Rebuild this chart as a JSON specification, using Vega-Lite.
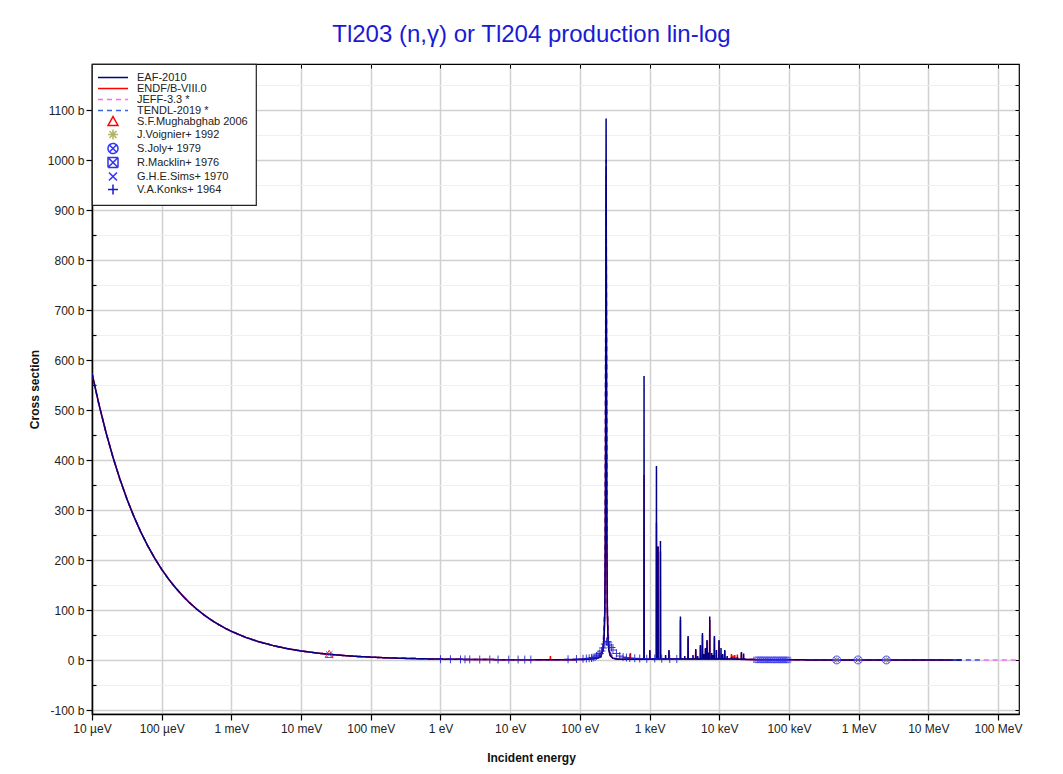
{
  "$schema": "https://vega.github.io/schema/vega-lite/v6.json",
  "width": 927,
  "height": 650,
  "autosize": {"type": "none"},
  "padding": {"left": 92, "top": 64, "right": 44, "bottom": 60},
  "background": "white",
  "title": {"text": "Tl203 (n,γ) or Tl204 production lin-log", "fontSize": 24, "font": "Liberation Sans", "fontWeight": "normal", "color": "#1a1ad6", "anchor": "middle", "frame": "group", "dx": -24, "offset": 16},
  "config": {
    "view": {"stroke": "black", "strokeWidth": 1.2},
    "font": "Liberation Sans",
    "legend": {"orient": "top-left", "offset": 0, "padding": 7.5, "fillColor": "white", "strokeColor": "#222222", "strokeWidth": 1.2, "symbolSize": 100, "symbolStrokeWidth": 1.5, "labelFontSize": 11, "labelFont": "Liberation Sans", "labelColor": "#222222", "rowPadding": -2.6, "symbolOffset": 7.5, "labelOffset": 18, "symbolOpacity": 1, "cornerRadius": 0}
  },
  "datasets": {
    "eaf": [
      {"s":"EAF-2010","e":1e-5,"v":573.4},{"s":"EAF-2010","e":1.25e-5,"v":512.9},{"s":"EAF-2010","e":1.6e-5,"v":453.3},{"s":"EAF-2010","e":2e-5,"v":405.5},{"s":"EAF-2010","e":2.5e-5,"v":362.7},{"s":"EAF-2010","e":3.2e-5,"v":320.5},{"s":"EAF-2010","e":4e-5,"v":286.7},{"s":"EAF-2010","e":5e-5,"v":256.4},{"s":"EAF-2010","e":6.3e-5,"v":228.4},{"s":"EAF-2010","e":8e-5,"v":202.7},{"s":"EAF-2010","e":1e-4,"v":181.3},{"s":"EAF-2010","e":1.25e-4,"v":162.2},{"s":"EAF-2010","e":1.6e-4,"v":143.4},{"s":"EAF-2010","e":2e-4,"v":128.2},{"s":"EAF-2010","e":2.5e-4,"v":114.7},{"s":"EAF-2010","e":3.2e-4,"v":101.4},{"s":"EAF-2010","e":4e-4,"v":90.7},{"s":"EAF-2010","e":5e-4,"v":81.1},{"s":"EAF-2010","e":6.3e-4,"v":72.2},{"s":"EAF-2010","e":8e-4,"v":64.1},{"s":"EAF-2010","e":1e-3,"v":57.3},{"s":"EAF-2010","e":1.6e-3,"v":45.3},{"s":"EAF-2010","e":2.5e-3,"v":36.3},{"s":"EAF-2010","e":4e-3,"v":28.7},{"s":"EAF-2010","e":6.3e-3,"v":22.8},{"s":"EAF-2010","e":1e-2,"v":18.1},{"s":"EAF-2010","e":1.6e-2,"v":14.3},{"s":"EAF-2010","e":2.53e-2,"v":11.4},{"s":"EAF-2010","e":4e-2,"v":9.07},{"s":"EAF-2010","e":6.3e-2,"v":7.22},{"s":"EAF-2010","e":0.1,"v":5.73},{"s":"EAF-2010","e":0.16,"v":4.53},{"s":"EAF-2010","e":0.25,"v":3.63},{"s":"EAF-2010","e":0.4,"v":2.87},{"s":"EAF-2010","e":0.63,"v":2.28},{"s":"EAF-2010","e":1,"v":1.81},{"s":"EAF-2010","e":1.6,"v":1.43},{"s":"EAF-2010","e":2.5,"v":1.15},{"s":"EAF-2010","e":4,"v":0.91},{"s":"EAF-2010","e":6.3,"v":0.72},{"s":"EAF-2010","e":10,"v":0.57},{"s":"EAF-2010","e":20,"v":0.45},{"s":"EAF-2010","e":50,"v":0.55},{"s":"EAF-2010","e":100,"v":0.8},
      {"s":"EAF-2010","e":138,"v":1.6},{"s":"EAF-2010","e":178,"v":3.8},{"s":"EAF-2010","e":200,"v":6.5},{"s":"EAF-2010","e":215,"v":21},{"s":"EAF-2010","e":223,"v":47},{"s":"EAF-2010","e":228,"v":100},{"s":"EAF-2010","e":232,"v":240},{"s":"EAF-2010","e":234,"v":423},{"s":"EAF-2010","e":236,"v":779},{"s":"EAF-2010","e":238,"v":1083},{"s":"EAF-2010","e":240,"v":779},{"s":"EAF-2010","e":242,"v":423},{"s":"EAF-2010","e":244,"v":240},{"s":"EAF-2010","e":248,"v":100},{"s":"EAF-2010","e":253,"v":47},{"s":"EAF-2010","e":261,"v":20},{"s":"EAF-2010","e":273,"v":9},{"s":"EAF-2010","e":298,"v":3.5},{"s":"EAF-2010","e":338,"v":1.8},{"s":"EAF-2010","e":400,"v":1.4},{"s":"EAF-2010","e":530,"v":1.3},{"s":"EAF-2010","e":700,"v":1.3},
      {"s":"EAF-2010","e":830,"v":1.4},{"s":"EAF-2010","e":834,"v":568},{"s":"EAF-2010","e":838,"v":1.4},
      {"s":"EAF-2010","e":1004,"v":1.5},{"s":"EAF-2010","e":1009,"v":20},{"s":"EAF-2010","e":1014,"v":1.5},
      {"s":"EAF-2010","e":1250,"v":2},{"s":"EAF-2010","e":1256,"v":388},{"s":"EAF-2010","e":1262,"v":2},
      {"s":"EAF-2010","e":1318,"v":2},{"s":"EAF-2010","e":1324,"v":227},{"s":"EAF-2010","e":1330,"v":2},
      {"s":"EAF-2010","e":1426,"v":2},{"s":"EAF-2010","e":1433,"v":238},{"s":"EAF-2010","e":1440,"v":2},
      {"s":"EAF-2010","e":1692,"v":1.8},{"s":"EAF-2010","e":1700,"v":10},{"s":"EAF-2010","e":1708,"v":1.8},
      {"s":"EAF-2010","e":1890,"v":1.8},{"s":"EAF-2010","e":1900,"v":20},{"s":"EAF-2010","e":1910,"v":1.8},
      {"s":"EAF-2010","e":2760,"v":1.8},{"s":"EAF-2010","e":2774,"v":87},{"s":"EAF-2010","e":2788,"v":1.8},
      {"s":"EAF-2010","e":3184,"v":1.8},{"s":"EAF-2010","e":3200,"v":8},{"s":"EAF-2010","e":3216,"v":1.8},
      {"s":"EAF-2010","e":3555,"v":1.8},{"s":"EAF-2010","e":3573,"v":48},{"s":"EAF-2010","e":3591,"v":1.8},
      {"s":"EAF-2010","e":4179,"v":2},{"s":"EAF-2010","e":4200,"v":10},{"s":"EAF-2010","e":4221,"v":2},
      {"s":"EAF-2010","e":4577,"v":2},{"s":"EAF-2010","e":4600,"v":22},{"s":"EAF-2010","e":4623,"v":2},
      {"s":"EAF-2010","e":4875,"v":2},{"s":"EAF-2010","e":4900,"v":8},{"s":"EAF-2010","e":4925,"v":2},
      {"s":"EAF-2010","e":5343,"v":2},{"s":"EAF-2010","e":5370,"v":30},{"s":"EAF-2010","e":5397,"v":2},
      {"s":"EAF-2010","e":5711,"v":2},{"s":"EAF-2010","e":5740,"v":54},{"s":"EAF-2010","e":5769,"v":2},
      {"s":"EAF-2010","e":5970,"v":2},{"s":"EAF-2010","e":6000,"v":12},{"s":"EAF-2010","e":6030,"v":2},
      {"s":"EAF-2010","e":6308,"v":2},{"s":"EAF-2010","e":6340,"v":24},{"s":"EAF-2010","e":6372,"v":2},
      {"s":"EAF-2010","e":6647,"v":2},{"s":"EAF-2010","e":6680,"v":40},{"s":"EAF-2010","e":6713,"v":2},
      {"s":"EAF-2010","e":6965,"v":2},{"s":"EAF-2010","e":7000,"v":15},{"s":"EAF-2010","e":7035,"v":2},
      {"s":"EAF-2010","e":7273,"v":2},{"s":"EAF-2010","e":7310,"v":87},{"s":"EAF-2010","e":7347,"v":2},
      {"s":"EAF-2010","e":7761,"v":2},{"s":"EAF-2010","e":7800,"v":14},{"s":"EAF-2010","e":7839,"v":2},
      {"s":"EAF-2010","e":8159,"v":2},{"s":"EAF-2010","e":8200,"v":10},{"s":"EAF-2010","e":8241,"v":2},
      {"s":"EAF-2010","e":8477,"v":2},{"s":"EAF-2010","e":8520,"v":48},{"s":"EAF-2010","e":8563,"v":2},
      {"s":"EAF-2010","e":9074,"v":2},{"s":"EAF-2010","e":9120,"v":20},{"s":"EAF-2010","e":9166,"v":2},
      {"s":"EAF-2010","e":9880,"v":2},{"s":"EAF-2010","e":9930,"v":40},{"s":"EAF-2010","e":9980,"v":2},
      {"s":"EAF-2010","e":10547,"v":2},{"s":"EAF-2010","e":10600,"v":24},{"s":"EAF-2010","e":10653,"v":2},
      {"s":"EAF-2010","e":11144,"v":2},{"s":"EAF-2010","e":11200,"v":12},{"s":"EAF-2010","e":11256,"v":2},
      {"s":"EAF-2010","e":11940,"v":2},{"s":"EAF-2010","e":12000,"v":20},{"s":"EAF-2010","e":12060,"v":2},
      {"s":"EAF-2010","e":12935,"v":2},{"s":"EAF-2010","e":13000,"v":8},{"s":"EAF-2010","e":13065,"v":2},
      {"s":"EAF-2010","e":14885,"v":1.8},{"s":"EAF-2010","e":14960,"v":6},{"s":"EAF-2010","e":15035,"v":1.8},
      {"s":"EAF-2010","e":16617,"v":1.8},{"s":"EAF-2010","e":16700,"v":5},{"s":"EAF-2010","e":16783,"v":1.8},
      {"s":"EAF-2010","e":18109,"v":1.6},{"s":"EAF-2010","e":18200,"v":6},{"s":"EAF-2010","e":18291,"v":1.6},
      {"s":"EAF-2010","e":20696,"v":1.5},{"s":"EAF-2010","e":20800,"v":16},{"s":"EAF-2010","e":20904,"v":1.5},
      {"s":"EAF-2010","e":22288,"v":1.4},{"s":"EAF-2010","e":22400,"v":13},{"s":"EAF-2010","e":22512,"v":1.4},
      {"s":"EAF-2010","e":25000,"v":1.2},{"s":"EAF-2010","e":30000,"v":0.8},{"s":"EAF-2010","e":50000,"v":0.5},{"s":"EAF-2010","e":100000,"v":0.3},{"s":"EAF-2010","e":300000,"v":0.2},{"s":"EAF-2010","e":1000000,"v":0.12},{"s":"EAF-2010","e":3000000,"v":0.05},{"s":"EAF-2010","e":10000000,"v":0.01},{"s":"EAF-2010","e":30000000,"v":0.005}
    ],
    "endf": [
      {"s":"ENDF/B-VIII.0","e":1e-5,"v":573.4},{"s":"ENDF/B-VIII.0","e":1.25e-5,"v":512.9},{"s":"ENDF/B-VIII.0","e":1.6e-5,"v":453.3},{"s":"ENDF/B-VIII.0","e":2e-5,"v":405.5},{"s":"ENDF/B-VIII.0","e":2.5e-5,"v":362.7},{"s":"ENDF/B-VIII.0","e":3.2e-5,"v":320.5},{"s":"ENDF/B-VIII.0","e":4e-5,"v":286.7},{"s":"ENDF/B-VIII.0","e":5e-5,"v":256.4},{"s":"ENDF/B-VIII.0","e":6.3e-5,"v":228.4},{"s":"ENDF/B-VIII.0","e":8e-5,"v":202.7},{"s":"ENDF/B-VIII.0","e":1e-4,"v":181.3},{"s":"ENDF/B-VIII.0","e":1.25e-4,"v":162.2},{"s":"ENDF/B-VIII.0","e":1.6e-4,"v":143.4},{"s":"ENDF/B-VIII.0","e":2e-4,"v":128.2},{"s":"ENDF/B-VIII.0","e":2.5e-4,"v":114.7},{"s":"ENDF/B-VIII.0","e":3.2e-4,"v":101.4},{"s":"ENDF/B-VIII.0","e":4e-4,"v":90.7},{"s":"ENDF/B-VIII.0","e":5e-4,"v":81.1},{"s":"ENDF/B-VIII.0","e":6.3e-4,"v":72.2},{"s":"ENDF/B-VIII.0","e":8e-4,"v":64.1},{"s":"ENDF/B-VIII.0","e":1e-3,"v":57.3},{"s":"ENDF/B-VIII.0","e":1.6e-3,"v":45.3},{"s":"ENDF/B-VIII.0","e":2.5e-3,"v":36.3},{"s":"ENDF/B-VIII.0","e":4e-3,"v":28.7},{"s":"ENDF/B-VIII.0","e":6.3e-3,"v":22.8},{"s":"ENDF/B-VIII.0","e":1e-2,"v":18.1},{"s":"ENDF/B-VIII.0","e":1.6e-2,"v":14.3},{"s":"ENDF/B-VIII.0","e":2.53e-2,"v":11.4},{"s":"ENDF/B-VIII.0","e":4e-2,"v":9.07},{"s":"ENDF/B-VIII.0","e":6.3e-2,"v":7.22},{"s":"ENDF/B-VIII.0","e":0.1,"v":5.73},{"s":"ENDF/B-VIII.0","e":0.16,"v":4.53},{"s":"ENDF/B-VIII.0","e":0.25,"v":3.63},{"s":"ENDF/B-VIII.0","e":0.4,"v":2.87},{"s":"ENDF/B-VIII.0","e":0.63,"v":2.28},{"s":"ENDF/B-VIII.0","e":1,"v":1.81},{"s":"ENDF/B-VIII.0","e":1.6,"v":1.43},{"s":"ENDF/B-VIII.0","e":2.5,"v":1.15},{"s":"ENDF/B-VIII.0","e":4,"v":0.91},{"s":"ENDF/B-VIII.0","e":6.3,"v":0.72},{"s":"ENDF/B-VIII.0","e":10,"v":0.57},{"s":"ENDF/B-VIII.0","e":20,"v":0.45},
      {"s":"ENDF/B-VIII.0","e":37.5,"v":0.5},{"s":"ENDF/B-VIII.0","e":37.8,"v":8},{"s":"ENDF/B-VIII.0","e":38.1,"v":0.5},
      {"s":"ENDF/B-VIII.0","e":50,"v":0.55},{"s":"ENDF/B-VIII.0","e":100,"v":0.8},{"s":"ENDF/B-VIII.0","e":138,"v":1.6},{"s":"ENDF/B-VIII.0","e":178,"v":3.6},{"s":"ENDF/B-VIII.0","e":200,"v":6.2},{"s":"ENDF/B-VIII.0","e":215,"v":20},{"s":"ENDF/B-VIII.0","e":223,"v":44},{"s":"ENDF/B-VIII.0","e":228,"v":92},{"s":"ENDF/B-VIII.0","e":232,"v":220},{"s":"ENDF/B-VIII.0","e":234,"v":390},{"s":"ENDF/B-VIII.0","e":236,"v":700},{"s":"ENDF/B-VIII.0","e":238,"v":976},{"s":"ENDF/B-VIII.0","e":240,"v":700},{"s":"ENDF/B-VIII.0","e":242,"v":390},{"s":"ENDF/B-VIII.0","e":244,"v":220},{"s":"ENDF/B-VIII.0","e":248,"v":92},{"s":"ENDF/B-VIII.0","e":253,"v":44},{"s":"ENDF/B-VIII.0","e":261,"v":19},{"s":"ENDF/B-VIII.0","e":273,"v":8.5},{"s":"ENDF/B-VIII.0","e":298,"v":3.4},{"s":"ENDF/B-VIII.0","e":338,"v":1.8},{"s":"ENDF/B-VIII.0","e":400,"v":1.4},
      {"s":"ENDF/B-VIII.0","e":529,"v":1.3},{"s":"ENDF/B-VIII.0","e":532,"v":14},{"s":"ENDF/B-VIII.0","e":535,"v":1.3},
      {"s":"ENDF/B-VIII.0","e":830,"v":1.4},{"s":"ENDF/B-VIII.0","e":834,"v":370},{"s":"ENDF/B-VIII.0","e":838,"v":1.4},
      {"s":"ENDF/B-VIII.0","e":1004,"v":1.5},{"s":"ENDF/B-VIII.0","e":1009,"v":18},{"s":"ENDF/B-VIII.0","e":1014,"v":1.5},
      {"s":"ENDF/B-VIII.0","e":1250,"v":2},{"s":"ENDF/B-VIII.0","e":1256,"v":274},{"s":"ENDF/B-VIII.0","e":1262,"v":2},
      {"s":"ENDF/B-VIII.0","e":1318,"v":2},{"s":"ENDF/B-VIII.0","e":1324,"v":227},{"s":"ENDF/B-VIII.0","e":1330,"v":2},
      {"s":"ENDF/B-VIII.0","e":1426,"v":2},{"s":"ENDF/B-VIII.0","e":1433,"v":217},{"s":"ENDF/B-VIII.0","e":1440,"v":2},
      {"s":"ENDF/B-VIII.0","e":1890,"v":1.8},{"s":"ENDF/B-VIII.0","e":1900,"v":18},{"s":"ENDF/B-VIII.0","e":1910,"v":1.8},
      {"s":"ENDF/B-VIII.0","e":2760,"v":1.8},{"s":"ENDF/B-VIII.0","e":2774,"v":80},{"s":"ENDF/B-VIII.0","e":2788,"v":1.8},
      {"s":"ENDF/B-VIII.0","e":3555,"v":1.8},{"s":"ENDF/B-VIII.0","e":3573,"v":45},{"s":"ENDF/B-VIII.0","e":3591,"v":1.8},
      {"s":"ENDF/B-VIII.0","e":4577,"v":2},{"s":"ENDF/B-VIII.0","e":4600,"v":20},{"s":"ENDF/B-VIII.0","e":4623,"v":2},
      {"s":"ENDF/B-VIII.0","e":5343,"v":2},{"s":"ENDF/B-VIII.0","e":5370,"v":28},{"s":"ENDF/B-VIII.0","e":5397,"v":2},
      {"s":"ENDF/B-VIII.0","e":5711,"v":2},{"s":"ENDF/B-VIII.0","e":5740,"v":50},{"s":"ENDF/B-VIII.0","e":5769,"v":2},
      {"s":"ENDF/B-VIII.0","e":6308,"v":2},{"s":"ENDF/B-VIII.0","e":6340,"v":22},{"s":"ENDF/B-VIII.0","e":6372,"v":2},
      {"s":"ENDF/B-VIII.0","e":6647,"v":2},{"s":"ENDF/B-VIII.0","e":6680,"v":38},{"s":"ENDF/B-VIII.0","e":6713,"v":2},
      {"s":"ENDF/B-VIII.0","e":7273,"v":2},{"s":"ENDF/B-VIII.0","e":7310,"v":80},{"s":"ENDF/B-VIII.0","e":7347,"v":2},
      {"s":"ENDF/B-VIII.0","e":8477,"v":2},{"s":"ENDF/B-VIII.0","e":8520,"v":45},{"s":"ENDF/B-VIII.0","e":8563,"v":2},
      {"s":"ENDF/B-VIII.0","e":9880,"v":2},{"s":"ENDF/B-VIII.0","e":9930,"v":38},{"s":"ENDF/B-VIII.0","e":9980,"v":2},
      {"s":"ENDF/B-VIII.0","e":11940,"v":2},{"s":"ENDF/B-VIII.0","e":12000,"v":18},{"s":"ENDF/B-VIII.0","e":12060,"v":2},
      {"s":"ENDF/B-VIII.0","e":14885,"v":1.8},{"s":"ENDF/B-VIII.0","e":14960,"v":12},{"s":"ENDF/B-VIII.0","e":15035,"v":1.8},
      {"s":"ENDF/B-VIII.0","e":15720,"v":1.8},{"s":"ENDF/B-VIII.0","e":15800,"v":9},{"s":"ENDF/B-VIII.0","e":15880,"v":1.8},
      {"s":"ENDF/B-VIII.0","e":16617,"v":1.8},{"s":"ENDF/B-VIII.0","e":16700,"v":10},{"s":"ENDF/B-VIII.0","e":16783,"v":1.8},
      {"s":"ENDF/B-VIII.0","e":18109,"v":1.6},{"s":"ENDF/B-VIII.0","e":18200,"v":11},{"s":"ENDF/B-VIII.0","e":18291,"v":1.6},
      {"s":"ENDF/B-VIII.0","e":20696,"v":1.5},{"s":"ENDF/B-VIII.0","e":20800,"v":14},{"s":"ENDF/B-VIII.0","e":20904,"v":1.5},
      {"s":"ENDF/B-VIII.0","e":25000,"v":1.2},{"s":"ENDF/B-VIII.0","e":30000,"v":0.8},{"s":"ENDF/B-VIII.0","e":50000,"v":0.5},{"s":"ENDF/B-VIII.0","e":100000,"v":0.3},{"s":"ENDF/B-VIII.0","e":300000,"v":0.2},{"s":"ENDF/B-VIII.0","e":1000000,"v":0.12},{"s":"ENDF/B-VIII.0","e":3000000,"v":0.05},{"s":"ENDF/B-VIII.0","e":10000000,"v":0.01},{"s":"ENDF/B-VIII.0","e":20000000,"v":0.006}
    ],
    "jeff": [
      {"s":"JEFF-3.3 *","e":1e-5,"v":573.4},{"s":"JEFF-3.3 *","e":1.25e-5,"v":512.9},{"s":"JEFF-3.3 *","e":1.6e-5,"v":453.3},{"s":"JEFF-3.3 *","e":2e-5,"v":405.5},{"s":"JEFF-3.3 *","e":2.5e-5,"v":362.7},{"s":"JEFF-3.3 *","e":3.2e-5,"v":320.5},{"s":"JEFF-3.3 *","e":4e-5,"v":286.7},{"s":"JEFF-3.3 *","e":5e-5,"v":256.4},{"s":"JEFF-3.3 *","e":6.3e-5,"v":228.4},{"s":"JEFF-3.3 *","e":8e-5,"v":202.7},{"s":"JEFF-3.3 *","e":1e-4,"v":181.3},{"s":"JEFF-3.3 *","e":1.25e-4,"v":162.2},{"s":"JEFF-3.3 *","e":1.6e-4,"v":143.4},{"s":"JEFF-3.3 *","e":2e-4,"v":128.2},{"s":"JEFF-3.3 *","e":2.5e-4,"v":114.7},{"s":"JEFF-3.3 *","e":3.2e-4,"v":101.4},{"s":"JEFF-3.3 *","e":4e-4,"v":90.7},{"s":"JEFF-3.3 *","e":5e-4,"v":81.1},{"s":"JEFF-3.3 *","e":6.3e-4,"v":72.2},{"s":"JEFF-3.3 *","e":8e-4,"v":64.1},{"s":"JEFF-3.3 *","e":1e-3,"v":57.3},{"s":"JEFF-3.3 *","e":1.6e-3,"v":45.3},{"s":"JEFF-3.3 *","e":2.5e-3,"v":36.3},{"s":"JEFF-3.3 *","e":4e-3,"v":28.7},{"s":"JEFF-3.3 *","e":6.3e-3,"v":22.8},{"s":"JEFF-3.3 *","e":1e-2,"v":18.1},{"s":"JEFF-3.3 *","e":1.6e-2,"v":14.3},{"s":"JEFF-3.3 *","e":2.53e-2,"v":11.4},{"s":"JEFF-3.3 *","e":4e-2,"v":9.07},{"s":"JEFF-3.3 *","e":6.3e-2,"v":7.22},{"s":"JEFF-3.3 *","e":0.1,"v":5.73},{"s":"JEFF-3.3 *","e":0.16,"v":4.53},{"s":"JEFF-3.3 *","e":0.25,"v":3.63},{"s":"JEFF-3.3 *","e":0.4,"v":2.87},{"s":"JEFF-3.3 *","e":0.63,"v":2.28},{"s":"JEFF-3.3 *","e":1,"v":1.81},{"s":"JEFF-3.3 *","e":2.5,"v":1.15},{"s":"JEFF-3.3 *","e":10,"v":0.57},{"s":"JEFF-3.3 *","e":100,"v":0.8},{"s":"JEFF-3.3 *","e":178,"v":3.8},{"s":"JEFF-3.3 *","e":215,"v":21},{"s":"JEFF-3.3 *","e":228,"v":100},{"s":"JEFF-3.3 *","e":236,"v":779},{"s":"JEFF-3.3 *","e":238,"v":1000},{"s":"JEFF-3.3 *","e":240,"v":779},{"s":"JEFF-3.3 *","e":248,"v":100},{"s":"JEFF-3.3 *","e":261,"v":20},{"s":"JEFF-3.3 *","e":298,"v":3.5},{"s":"JEFF-3.3 *","e":400,"v":1.4},{"s":"JEFF-3.3 *","e":1000,"v":1.5},{"s":"JEFF-3.3 *","e":10000,"v":2},{"s":"JEFF-3.3 *","e":30000,"v":0.8},{"s":"JEFF-3.3 *","e":100000,"v":0.3},{"s":"JEFF-3.3 *","e":1000000,"v":0.12},{"s":"JEFF-3.3 *","e":10000000,"v":0.01},{"s":"JEFF-3.3 *","e":60000000,"v":0.004},{"s":"JEFF-3.3 *","e":200000000,"v":0.002}
    ],
    "tendl": [
      {"s":"TENDL-2019 *","e":1e-5,"v":573.4},{"s":"TENDL-2019 *","e":1.25e-5,"v":512.9},{"s":"TENDL-2019 *","e":1.6e-5,"v":453.3},{"s":"TENDL-2019 *","e":2e-5,"v":405.5},{"s":"TENDL-2019 *","e":2.5e-5,"v":362.7},{"s":"TENDL-2019 *","e":3.2e-5,"v":320.5},{"s":"TENDL-2019 *","e":4e-5,"v":286.7},{"s":"TENDL-2019 *","e":5e-5,"v":256.4},{"s":"TENDL-2019 *","e":6.3e-5,"v":228.4},{"s":"TENDL-2019 *","e":8e-5,"v":202.7},{"s":"TENDL-2019 *","e":1e-4,"v":181.3},{"s":"TENDL-2019 *","e":1.25e-4,"v":162.2},{"s":"TENDL-2019 *","e":1.6e-4,"v":143.4},{"s":"TENDL-2019 *","e":2e-4,"v":128.2},{"s":"TENDL-2019 *","e":2.5e-4,"v":114.7},{"s":"TENDL-2019 *","e":3.2e-4,"v":101.4},{"s":"TENDL-2019 *","e":4e-4,"v":90.7},{"s":"TENDL-2019 *","e":5e-4,"v":81.1},{"s":"TENDL-2019 *","e":6.3e-4,"v":72.2},{"s":"TENDL-2019 *","e":8e-4,"v":64.1},{"s":"TENDL-2019 *","e":1e-3,"v":57.3},{"s":"TENDL-2019 *","e":1.6e-3,"v":45.3},{"s":"TENDL-2019 *","e":2.5e-3,"v":36.3},{"s":"TENDL-2019 *","e":4e-3,"v":28.7},{"s":"TENDL-2019 *","e":6.3e-3,"v":22.8},{"s":"TENDL-2019 *","e":1e-2,"v":18.1},{"s":"TENDL-2019 *","e":1.6e-2,"v":14.3},{"s":"TENDL-2019 *","e":2.53e-2,"v":11.4},{"s":"TENDL-2019 *","e":4e-2,"v":9.07},{"s":"TENDL-2019 *","e":6.3e-2,"v":7.22},{"s":"TENDL-2019 *","e":0.1,"v":5.73},{"s":"TENDL-2019 *","e":0.16,"v":4.53},{"s":"TENDL-2019 *","e":0.25,"v":3.63},{"s":"TENDL-2019 *","e":0.4,"v":2.87},{"s":"TENDL-2019 *","e":0.63,"v":2.28},{"s":"TENDL-2019 *","e":1,"v":1.81},{"s":"TENDL-2019 *","e":2.5,"v":1.15},{"s":"TENDL-2019 *","e":10,"v":0.57},{"s":"TENDL-2019 *","e":100,"v":0.8},{"s":"TENDL-2019 *","e":178,"v":3.8},{"s":"TENDL-2019 *","e":215,"v":21},{"s":"TENDL-2019 *","e":228,"v":100},{"s":"TENDL-2019 *","e":236,"v":779},{"s":"TENDL-2019 *","e":238,"v":1000},{"s":"TENDL-2019 *","e":240,"v":779},{"s":"TENDL-2019 *","e":248,"v":100},{"s":"TENDL-2019 *","e":261,"v":20},{"s":"TENDL-2019 *","e":298,"v":3.5},{"s":"TENDL-2019 *","e":400,"v":1.4},{"s":"TENDL-2019 *","e":1000,"v":1.5},{"s":"TENDL-2019 *","e":10000,"v":2},{"s":"TENDL-2019 *","e":30000,"v":0.8},{"s":"TENDL-2019 *","e":100000,"v":0.3},{"s":"TENDL-2019 *","e":1000000,"v":0.12},{"s":"TENDL-2019 *","e":10000000,"v":0.01},{"s":"TENDL-2019 *","e":60000000,"v":0.004}
    ],
    "exp": [
      {"s":"S.F.Mughabghab 2006","e":0.0253,"v":11.4},
      {"s":"G.H.E.Sims+ 1970","e":0.0253,"v":11.0},
      {"s":"J.Voignier+ 1992","e":485000,"v":0.1},{"s":"J.Voignier+ 1992","e":980000,"v":0.1},{"s":"J.Voignier+ 1992","e":2500000,"v":0.05},
      {"s":"S.Joly+ 1979","e":485000,"v":0.1},{"s":"S.Joly+ 1979","e":980000,"v":0.1},{"s":"S.Joly+ 1979","e":2500000,"v":0.05},
      {"s":"R.Macklin+ 1976","e":34000,"v":0.3},{"s":"R.Macklin+ 1976","e":36500,"v":0.3},{"s":"R.Macklin+ 1976","e":39000,"v":0.28},{"s":"R.Macklin+ 1976","e":42000,"v":0.27},{"s":"R.Macklin+ 1976","e":45000,"v":0.26},{"s":"R.Macklin+ 1976","e":48000,"v":0.25},{"s":"R.Macklin+ 1976","e":52000,"v":0.24},{"s":"R.Macklin+ 1976","e":56000,"v":0.23},{"s":"R.Macklin+ 1976","e":60000,"v":0.22},{"s":"R.Macklin+ 1976","e":64500,"v":0.21},{"s":"R.Macklin+ 1976","e":69000,"v":0.2},{"s":"R.Macklin+ 1976","e":74000,"v":0.2},{"s":"R.Macklin+ 1976","e":79500,"v":0.19},{"s":"R.Macklin+ 1976","e":85000,"v":0.18},{"s":"R.Macklin+ 1976","e":91000,"v":0.18},{"s":"R.Macklin+ 1976","e":97000,"v":0.17},
      {"s":"V.A.Konks+ 1964","e":1.0,"v":1.5},{"s":"V.A.Konks+ 1964","e":1.39,"v":1.5},{"s":"V.A.Konks+ 1964","e":1.94,"v":1.2},{"s":"V.A.Konks+ 1964","e":2.25,"v":1.3},{"s":"V.A.Konks+ 1964","e":2.63,"v":1.2},{"s":"V.A.Konks+ 1964","e":3.66,"v":1.0},{"s":"V.A.Konks+ 1964","e":5.1,"v":1.0},{"s":"V.A.Konks+ 1964","e":6.7,"v":1.0},{"s":"V.A.Konks+ 1964","e":9.55,"v":0.9},{"s":"V.A.Konks+ 1964","e":13.0,"v":1.0},{"s":"V.A.Konks+ 1964","e":16.2,"v":0.9},{"s":"V.A.Konks+ 1964","e":19.8,"v":1.0},{"s":"V.A.Konks+ 1964","e":67.7,"v":1.5},{"s":"V.A.Konks+ 1964","e":89.4,"v":2},{"s":"V.A.Konks+ 1964","e":111,"v":2.5},{"s":"V.A.Konks+ 1964","e":124,"v":3},{"s":"V.A.Konks+ 1964","e":136,"v":3.5},{"s":"V.A.Konks+ 1964","e":147,"v":4},{"s":"V.A.Konks+ 1964","e":155,"v":5},{"s":"V.A.Konks+ 1964","e":165,"v":6},{"s":"V.A.Konks+ 1964","e":173,"v":8},{"s":"V.A.Konks+ 1964","e":182,"v":10},{"s":"V.A.Konks+ 1964","e":193,"v":13},{"s":"V.A.Konks+ 1964","e":204,"v":18},{"s":"V.A.Konks+ 1964","e":215,"v":24},{"s":"V.A.Konks+ 1964","e":228,"v":32},{"s":"V.A.Konks+ 1964","e":241,"v":37},{"s":"V.A.Konks+ 1964","e":255,"v":36},{"s":"V.A.Konks+ 1964","e":270,"v":30},{"s":"V.A.Konks+ 1964","e":285,"v":25},{"s":"V.A.Konks+ 1964","e":299,"v":20},{"s":"V.A.Konks+ 1964","e":335,"v":13},{"s":"V.A.Konks+ 1964","e":374,"v":8},{"s":"V.A.Konks+ 1964","e":417,"v":6},{"s":"V.A.Konks+ 1964","e":466,"v":5},{"s":"V.A.Konks+ 1964","e":520,"v":4},{"s":"V.A.Konks+ 1964","e":613,"v":3.5},{"s":"V.A.Konks+ 1964","e":723,"v":3},{"s":"V.A.Konks+ 1964","e":912,"v":2.5},{"s":"V.A.Konks+ 1964","e":1188,"v":3},{"s":"V.A.Konks+ 1964","e":1496,"v":2.5},{"s":"V.A.Konks+ 1964","e":1950,"v":2},{"s":"V.A.Konks+ 1964","e":2460,"v":2}
    ]
  },
  "resolve": {"axis": {"x": "independent", "y": "independent"}},
  "layer": [
    {
      "data": {"name": "jeff"},
      "mark": {"type": "line", "strokeWidth": 1.5, "clip": true},
      "encoding": {
        "x": {"field": "e", "type": "quantitative", "scale": {"type": "log", "domain": [1e-5, 2e8], "nice": false},
          "axis": {"values": [1e-5, 1e-4, 0.001, 0.01, 0.1, 1, 10, 100, 1000, 10000, 100000, 1000000, 10000000, 100000000],
            "labelExpr": "['10 µeV','100 µeV','1 meV','10 meV','100 meV','1 eV','10 eV','100 eV','1 keV','10 keV','100 keV','1 MeV','10 MeV','100 MeV'][round(log(datum.value)/LN10)+5]",
            "title": "Incident energy", "titleFontWeight": "bold", "titleFontSize": 12, "titleColor": "#111111", "titleX": 439, "titlePadding": 18,
            "grid": true, "gridColor": "#d0d0d0", "gridWidth": 1.5, "tickColor": "black", "tickSize": 6, "tickWidth": 1.2,
            "domainColor": "black", "domainWidth": 1.5, "labelFontSize": 12, "labelColor": "#222222", "labelPadding": 3, "labelFlush": false, "labelOverlap": false}},
        "y": {"field": "v", "type": "quantitative", "scale": {"domain": [-108, 1192], "nice": false, "zero": false},
          "axis": {"values": [-100, -50, 0, 50, 100, 150, 200, 250, 300, 350, 400, 450, 500, 550, 600, 650, 700, 750, 800, 850, 900, 950, 1000, 1050, 1100, 1150],
            "labelExpr": "datum.value % 100 == 0 ? datum.value + ' b' : ''",
            "title": "Cross section", "titleFontWeight": "bold", "titleFontSize": 12, "titleColor": "#111111", "titlePadding": 6,
            "grid": true, "gridColor": {"condition": {"test": "datum.value % 100 != 0", "value": "#efefef"}, "value": "#d0d0d0"},
            "gridWidth": {"condition": {"test": "datum.value % 100 != 0", "value": 1}, "value": 1.5},
            "tickSize": {"condition": {"test": "datum.value % 100 != 0", "value": -4}, "value": 6},
            "tickColor": "black", "tickWidth": 1.2, "domainColor": "black", "domainWidth": 1.5,
            "labelFontSize": 12, "labelColor": "#222222", "labelPadding": 2, "labelOverlap": false}},
        "color": {"field": "s", "type": "nominal", "title": null,
          "scale": {"domain": ["EAF-2010", "ENDF/B-VIII.0", "JEFF-3.3 *", "TENDL-2019 *", "S.F.Mughabghab 2006", "J.Voignier+ 1992", "S.Joly+ 1979", "R.Macklin+ 1976", "G.H.E.Sims+ 1970", "V.A.Konks+ 1964"],
            "range": ["#00008b", "#ff0000", "#ff66ff", "#3366dd", "#ff0000", "#b4b464", "#3333ff", "#3333ee", "#3333ff", "#1a1acc"]}},
        "strokeDash": {"field": "s", "type": "nominal", "title": null,
          "scale": {"domain": ["EAF-2010", "ENDF/B-VIII.0", "JEFF-3.3 *", "TENDL-2019 *", "S.F.Mughabghab 2006", "J.Voignier+ 1992", "S.Joly+ 1979", "R.Macklin+ 1976", "G.H.E.Sims+ 1970", "V.A.Konks+ 1964"],
            "range": [[1, 0], [1, 0], [5, 4], [5, 4], [1, 0], [1, 0], [1, 0], [1, 0], [1, 0], [1, 0]]}}
      }
    },
    {
      "data": {"name": "tendl"},
      "mark": {"type": "line", "strokeWidth": 1.5, "clip": true},
      "encoding": {
        "x": {"field": "e", "type": "quantitative", "axis": null},
        "y": {"field": "v", "type": "quantitative", "axis": null},
        "color": {"field": "s", "type": "nominal", "title": null},
        "strokeDash": {"field": "s", "type": "nominal", "title": null}
      }
    },
    {
      "data": {"name": "endf"},
      "mark": {"type": "line", "strokeWidth": 1.5, "clip": true},
      "encoding": {
        "x": {"field": "e", "type": "quantitative", "axis": null},
        "y": {"field": "v", "type": "quantitative", "axis": null},
        "color": {"field": "s", "type": "nominal", "title": null},
        "strokeDash": {"field": "s", "type": "nominal", "title": null}
      }
    },
    {
      "data": {"name": "eaf"},
      "mark": {"type": "line", "strokeWidth": 1.5, "clip": true},
      "encoding": {
        "x": {"field": "e", "type": "quantitative", "axis": null},
        "y": {"field": "v", "type": "quantitative", "axis": null},
        "color": {"field": "s", "type": "nominal", "title": null},
        "strokeDash": {"field": "s", "type": "nominal", "title": null}
      }
    },
    {
      "data": {"name": "exp"},
      "transform": [{"filter": "datum.s == 'R.Macklin+ 1976'"}],
      "mark": {"type": "point", "filled": false, "size": 30, "strokeWidth": 1, "opacity": 0.6, "clip": true},
      "encoding": {
        "x": {"field": "e", "type": "quantitative", "axis": null},
        "y": {"field": "v", "type": "quantitative", "axis": null},
        "color": {"field": "s", "type": "nominal", "title": null},
        "shape": {"field": "s", "type": "nominal", "title": null}
      }
    },
    {
      "data": {"name": "exp"},
      "transform": [{"filter": "datum.s != 'R.Macklin+ 1976'"}],
      "mark": {"type": "point", "filled": false, "size": 64, "strokeWidth": 1, "opacity": 0.85, "clip": true},
      "encoding": {
        "x": {"field": "e", "type": "quantitative",
          "axis": {"orient": "top", "labels": false, "grid": false, "domain": false, "title": null, "tickColor": "black", "tickSize": -4, "values": [1e-5, 1e-4, 0.001, 0.01, 0.1, 1, 10, 100, 1000, 10000, 100000, 1000000, 10000000, 100000000]}},
        "y": {"field": "v", "type": "quantitative",
          "axis": {"orient": "right", "labels": false, "grid": false, "domain": false, "title": null, "tickColor": "black", "tickSize": -4, "values": [-100, -50, 0, 50, 100, 150, 200, 250, 300, 350, 400, 450, 500, 550, 600, 650, 700, 750, 800, 850, 900, 950, 1000, 1050, 1100, 1150]}},
        "color": {"field": "s", "type": "nominal", "title": null},
        "shape": {"field": "s", "type": "nominal", "title": null,
          "scale": {"domain": ["EAF-2010", "ENDF/B-VIII.0", "JEFF-3.3 *", "TENDL-2019 *", "S.F.Mughabghab 2006", "J.Voignier+ 1992", "S.Joly+ 1979", "R.Macklin+ 1976", "G.H.E.Sims+ 1970", "V.A.Konks+ 1964"],
            "range": ["M-3,0L3,0", "M-3,0L3,0", "M-3,0L3,0", "M-3,0L3,0", "M0,-1L1,0.8L-1,0.8Z", "M-1,0L1,0M0,-1L0,1M-0.7,-0.7L0.7,0.7M-0.7,0.7L0.7,-0.7", "M-1,0A1,1,0,1,0,1,0A1,1,0,1,0,-1,0M-0.7,-0.7L0.7,0.7M-0.7,0.7L0.7,-0.7", "M-1,-1L1,-1L1,1L-1,1ZM-1,-1L1,1M-1,1L1,-1", "M-0.8,-0.8L0.8,0.8M-0.8,0.8L0.8,-0.8", "M-1,0L1,0M0,-1L0,1"]}}
      }
    }
  ]
}
